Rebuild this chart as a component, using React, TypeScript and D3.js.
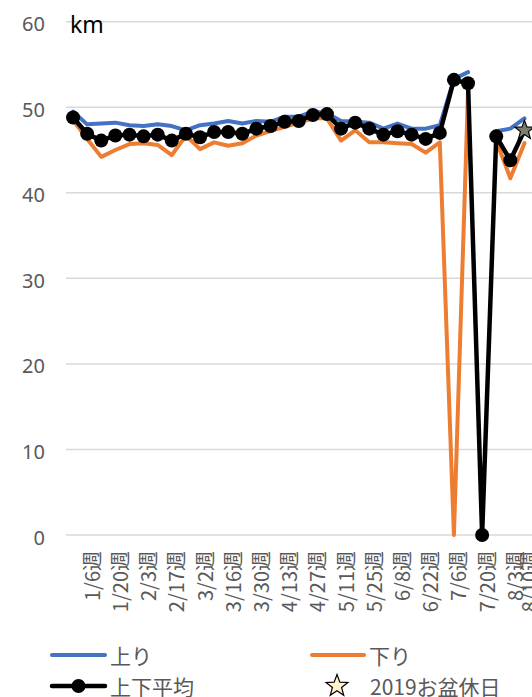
import React from "react";
import * as d3 from "d3";

const categories: string[] = [
  "12/30週","1/6週","1/13週","1/20週","1/27週","2/3週","2/10週","2/17週","2/24週","3/2週",
  "3/9週","3/16週","3/23週","3/30週","4/6週","4/13週","4/20週","4/27週","5/4週","5/11週",
  "5/18週","5/25週","6/1週","6/8週","6/15週","6/22週","6/29週","7/6週","7/13週","7/20週",
  "7/27週","8/3週","8/10週",
];
const shownLabels: string[] = [
  "1/6週","1/20週","2/3週","2/17週","3/2週","3/16週","3/30週","4/13週","4/27週","5/11週",
  "5/25週","6/8週","6/22週","7/6週","7/20週","8/3週","8/10週",
];
const up: (number | null)[] = [
  49.5, 48.0, 48.1, 48.2, 47.9, 47.8, 48.0, 47.8, 47.3, 47.9,
  48.1, 48.4, 48.1, 48.4, 48.3, 48.9, 48.9, 49.5, 49.3, 48.4,
  48.3, 48.2, 47.5, 48.1, 47.5, 47.5, 47.9, 53.3, 54.1, null,
  47.2, 47.5, 48.7,
];
const down: (number | null)[] = [
  48.5, 46.3, 44.2, 45.0, 45.7, 45.8, 45.6, 44.4, 46.7, 45.1,
  45.9, 45.5, 45.8, 46.7, 47.2, 47.7, 48.2, 48.7, 48.7, 46.1,
  47.3, 45.9, 45.9, 45.8, 45.7, 44.7, 45.9, 0, 51.8, null,
  46.1, 41.7, 45.8,
];
const avg: (number | null)[] = [
  48.8, 46.9, 46.1, 46.7, 46.8, 46.6, 46.8, 46.1, 46.9, 46.5,
  47.1, 47.1, 46.9, 47.5, 47.8, 48.3, 48.4, 49.1, 49.2, 47.5,
  48.2, 47.5, 46.8, 47.2, 46.8, 46.3, 47.0, 53.2, 52.8, 0,
  46.6, 43.8, 47.3,
];
const obon: (number | null)[] = [
  null, null, null, null, null, null, null, null, null, null,
  null, null, null, null, null, null, null, null, null, null,
  null, null, null, null, null, null, null, null, null, null,
  null, null, 47.3,
];
const yTicks: number[] = [0, 10, 20, 30, 40, 50, 60];

const W = 532;
const H = 697;
const FONT = "'Noto Sans CJK JP', 'Noto Sans', sans-serif";
const NUMFONT = "'Noto Sans', sans-serif";
const GRAY = "#595959";

function starPath(cx: number, cy: number, R: number, r: number): string {
  const pts: [number, number][] = [];
  for (let i = 0; i < 10; i++) {
    const a = -Math.PI / 2 + (i * Math.PI) / 5;
    const rad = i % 2 === 0 ? R : r;
    pts.push([cx + rad * Math.cos(a), cy + rad * Math.sin(a)]);
  }
  return "M" + pts.map((p) => p.join(",")).join("L") + "Z";
}

export default function App() {
  const x = d3.scaleBand<string>().domain(categories).range([66, 531.5]).padding(0);
  const y = d3.scaleLinear().domain([0, 60]).range([535, 21.7]);
  const cx = (i: number) => (x(categories[i]) as number) + x.bandwidth() / 2;

  const lineGen = d3
    .line<number | null>()
    .defined((d) => d != null)
    .x((_, i) => cx(i))
    .y((d) => y(d as number));

  return (
    <svg
      width={W}
      height={H}
      style={{ position: "absolute", left: 0, top: 0, background: "#fff" }}
    >
      <rect x={0} y={0} width={W} height={H} fill="#fff" />
      {yTicks.map((t) => (
        <g key={t}>
          <line x1={66} x2={W} y1={y(t)} y2={y(t)} stroke="#d9d9d9" strokeWidth={1.5} />
          <text
            x={45}
            y={y(t) + 2}
            textAnchor="end"
            dominantBaseline="central"
            fontFamily={NUMFONT}
            fontSize={20}
            fill={GRAY}
          >
            {t}
          </text>
        </g>
      ))}
      <text x={70} y={33} fontFamily={NUMFONT} fontSize={23} fill="#000">
        km
      </text>
      {categories.map((c, i) =>
        shownLabels.includes(c) ? (
          <text
            key={c}
            transform={`translate(${cx(i) + 4},551) rotate(-90)`}
            textAnchor="end"
            dominantBaseline="central"
            fontFamily={FONT}
            fontSize={20}
            fill={GRAY}
          >
            {c}
          </text>
        ) : null
      )}
      <path d={lineGen(up) || ""} fill="none" stroke="#4472c4" strokeWidth={4} strokeLinejoin="round" strokeLinecap="round" />
      <path d={lineGen(down) || ""} fill="none" stroke="#ed7d31" strokeWidth={4} strokeLinejoin="round" strokeLinecap="round" />
      <path d={lineGen(avg) || ""} fill="none" stroke="#000" strokeWidth={4.5} strokeLinejoin="round" strokeLinecap="round" />
      {avg.map((v, i) =>
        v != null && obon[i] == null ? <circle key={i} cx={cx(i)} cy={y(v)} r={7} fill="#000" /> : null
      )}
      {obon.map((v, i) =>
        v != null ? (
          <path key={i} d={starPath(cx(i), y(v), 10, 4.2)} fill="#7f7c6e" stroke="#000" strokeWidth={1.2} />
        ) : null
      )}
      {/* legend */}
      <line x1={52} x2={105} y1={655} y2={655} stroke="#4472c4" strokeWidth={4} strokeLinecap="round" />
      <text x={110} y={655} dominantBaseline="central" fontFamily={FONT} fontSize={21} fill={GRAY}>上り</text>
      <line x1={312} x2={364} y1={655} y2={655} stroke="#ed7d31" strokeWidth={4} strokeLinecap="round" />
      <text x={369} y={655} dominantBaseline="central" fontFamily={FONT} fontSize={21} fill={GRAY}>下り</text>
      <line x1={52} x2={105} y1={686} y2={686} stroke="#000" strokeWidth={4.5} strokeLinecap="round" />
      <circle cx={78.5} cy={686} r={7} fill="#000" />
      <text x={110} y={685.5} dominantBaseline="central" fontFamily={FONT} fontSize={21} fill={GRAY}>上下平均</text>
      <path d={starPath(337, 686, 11.5, 4.8)} fill="#fff2cc" stroke="#000" strokeWidth={1.2} />
      <text x={370} y={685.5} dominantBaseline="central" fontFamily={FONT} fontSize={21} fill={GRAY}>2019お盆休日</text>
    </svg>
  );
}
